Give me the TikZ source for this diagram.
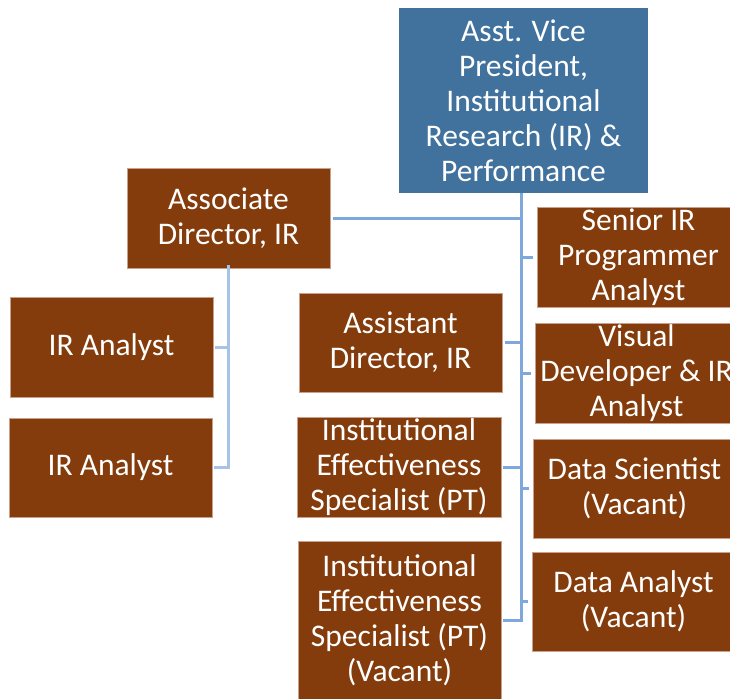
\documentclass[tikz,border=0pt]{standalone}
\usepackage{fontspec}
\setmainfont{Carlito}
\definecolor{boxbrown}{HTML}{843C0C}
\definecolor{boxedge}{HTML}{C8A08C}
\definecolor{headblue}{HTML}{41729E}
\definecolor{mainline}{HTML}{7EA7DB}
\definecolor{subline}{HTML}{A8C3E6}
\tikzset{
  unit/.style={fill=boxbrown, draw=boxedge, line width=0.8pt, text=white,
    minimum width=203pt, minimum height=100pt, align=center, inner sep=0pt,
    font=\fontsize{31.5}{35}\selectfont},
  head/.style={unit, fill=headblue, draw=none, minimum width=249pt, minimum height=185pt},
  conn/.style={draw=mainline, line width=3pt},
  subconn/.style={draw=subline, line width=3pt},
}
\begin{document}
\begin{tikzpicture}[x=1pt,y=-1pt]
\clip (0,0) rectangle (730,698);
\fill[white] (0,0) rectangle (730,698);

% trunk position and connectors
\coordinate (tk) at (521,0);
\coordinate (lt) at (228,0);
\coordinate (dirjoin) at (333,218);
\coordinate (trunkend) at (521,620);

\node[head] (avp) at (523.5,100.5) {Asst. Vice\\President,\\Institutional\\Research (IR) \&\\Performance};
\node[unit] (ad) at (228.5,218) {Associate\\Director, IR};
\node[unit] (ira1) at (111.5,347) {IR Analyst};
\node[unit, minimum height=99pt] (ira2) at (110.5,467.5) {IR Analyst};
\node[unit] (sr) at (638.5,257.5) {Senior IR\\Programmer\\Analyst};
\node[unit, minimum height=99pt] (asd) at (400.5,342.5) {Assistant\\Director, IR};
\node[unit] (vd) at (636.5,373) {Visual\\Developer \& IR\\Analyst};
\node[unit, minimum width=204pt] (ies1) at (399,467) {Institutional\\Effectiveness\\Specialist (PT)};
\node[unit, minimum height=99pt] (ds) at (634.5,488.5) {Data Scientist\\(Vacant)};
\node[unit, minimum height=158pt] (ies2) at (399.5,620) {Institutional\\Effectiveness\\Specialist (PT)\\(Vacant)};
\node[unit, minimum height=99pt] (da) at (633.5,601.5) {Data Analyst\\(Vacant)};

% reporting lines under the head
\draw[conn] (avp.south -| tk) -- (trunkend) -- ([xshift=2pt]ies2.east |- trunkend);
\draw[conn] (tk |- dirjoin) -- (dirjoin);
\draw[conn] (tk |- sr.west) -- ([xshift=-4pt]sr.west);
\draw[conn] (tk |- vd.west) -- ([xshift=-4pt]vd.west);
\draw[conn] (tk |- ds.west) -- ([xshift=-4pt]ds.west);
\draw[conn] (tk |- da.west) -- ([xshift=-4pt]da.west);
\draw[conn] (tk |- asd.east) -- ([xshift=3pt]asd.east);
\draw[conn] (tk |- ies1.east) -- ([xshift=2pt]ies1.east);

% reporting lines under the associate director
\draw[subconn] ([yshift=3pt]ad.south -| lt) -- (lt |- ira2.east) -- ([xshift=2pt]ira2.east);
\draw[subconn] (lt |- ira1.east) -- ([xshift=2pt]ira1.east);
\end{tikzpicture}
\end{document}
